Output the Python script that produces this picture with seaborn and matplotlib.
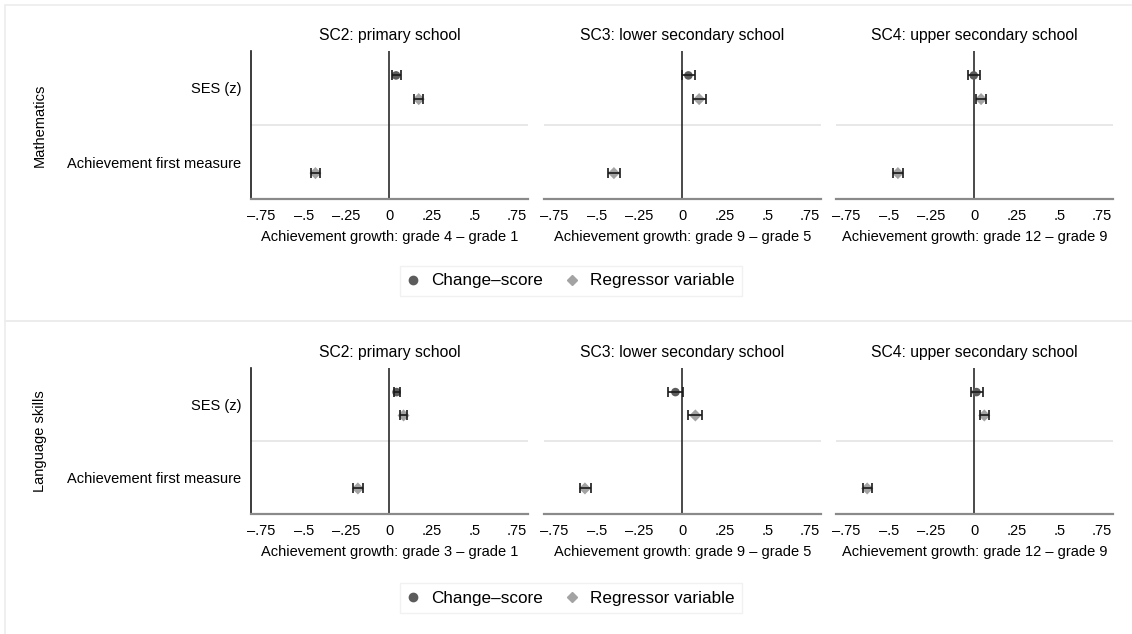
import numpy as np
import pandas as pd
import matplotlib
matplotlib.use("Agg")
import matplotlib.pyplot as plt
from matplotlib.lines import Line2D
from matplotlib.patches import Rectangle
import seaborn as sns

# ---- data -------------------------------------------------------------
stages = ["SC2: primary school", "SC3: lower secondary school", "SC4: upper secondary school"]
domains = ["Mathematics", "Language skills"]
predictors = ["SES (z)", "Achievement first measure"]
models = ["Change\u2013score", "Regressor variable"]

math_xlabels = ["Achievement growth: grade 4 \u2013 grade 1",
                "Achievement growth: grade 9 \u2013 grade 5",
                "Achievement growth: grade 12 \u2013 grade 9"]
lang_xlabels = ["Achievement growth: grade 3 \u2013 grade 1",
                "Achievement growth: grade 9 \u2013 grade 5",
                "Achievement growth: grade 12 \u2013 grade 9"]

# Mathematics
math_ses_change = [0.041, 0.037, -0.002]
math_ses_change_lo = [0.016, 0.002, -0.033]
math_ses_change_hi = [0.072, 0.074, 0.035]
math_ses_reg = [0.174, 0.100, 0.041]
math_ses_reg_lo = [0.145, 0.066, 0.014]
math_ses_reg_hi = [0.200, 0.139, 0.070]
math_ach_reg = [-0.432, -0.400, -0.447]
math_ach_reg_lo = [-0.459, -0.433, -0.473]
math_ach_reg_hi = [-0.404, -0.367, -0.418]

# Language skills
lang_ses_change = [0.044, -0.039, 0.014]
lang_ses_change_lo = [0.026, -0.084, -0.020]
lang_ses_change_hi = [0.065, 0.008, 0.051]
lang_ses_reg = [0.085, 0.078, 0.060]
lang_ses_reg_lo = [0.064, 0.037, 0.033]
lang_ses_reg_hi = [0.108, 0.119, 0.088]
lang_ach_reg = [-0.183, -0.570, -0.627]
lang_ach_reg_lo = [-0.210, -0.600, -0.652]
lang_ach_reg_hi = [-0.155, -0.537, -0.600]

xticks = [-0.75, -0.5, -0.25, 0, 0.25, 0.5, 0.75]
xticklabels = ["\u2013.75", "\u2013.5", "\u2013.25", "0", ".25", ".5", ".75"]


def build_frame(ses_c, ses_c_lo, ses_c_hi, ses_r, ses_r_lo, ses_r_hi, ach_r, ach_r_lo, ach_r_hi):
    rows = []
    for i, st in enumerate(stages):
        rows.append(dict(stage=st, predictor=predictors[0], model=models[0],
                         est=ses_c[i], lo=ses_c_lo[i], hi=ses_c_hi[i]))
        rows.append(dict(stage=st, predictor=predictors[0], model=models[1],
                         est=ses_r[i], lo=ses_r_lo[i], hi=ses_r_hi[i]))
        rows.append(dict(stage=st, predictor=predictors[1], model=models[1],
                         est=ach_r[i], lo=ach_r_lo[i], hi=ach_r_hi[i]))
    return pd.DataFrame(rows)


frames = [
    build_frame(math_ses_change, math_ses_change_lo, math_ses_change_hi,
                math_ses_reg, math_ses_reg_lo, math_ses_reg_hi,
                math_ach_reg, math_ach_reg_lo, math_ach_reg_hi),
    build_frame(lang_ses_change, lang_ses_change_lo, lang_ses_change_hi,
                lang_ses_reg, lang_ses_reg_lo, lang_ses_reg_hi,
                lang_ach_reg, lang_ach_reg_lo, lang_ach_reg_hi),
]
xlabel_sets = [math_xlabels, lang_xlabels]

# ---- style ------------------------------------------------------------
sns.set_style("white")
plt.rcParams["font.family"] = ["Liberation Sans", "DejaVu Sans"]
for key in ["text.color", "axes.labelcolor", "xtick.color", "ytick.color"]:
    plt.rcParams[key] = "black"

palette = {models[0]: "#5c5c5c", models[1]: "#a3a3a3"}
markers = {models[0]: "o", models[1]: "D"}
offsets = {models[0]: -0.17, models[1]: 0.15}

W, H = 1132, 634
fig = plt.figure(figsize=(W / 100, H / 100), dpi=100)

# light frames around the two blocks
fig.add_artist(Rectangle((5 / W, 1 - 321 / H), 1.2, 316 / H, transform=fig.transFigure,
                         fill=False, edgecolor="#ececec", lw=1.2))
fig.add_artist(Rectangle((5 / W, -0.1), 1.2, 0.1 + 1 - 321 / H, transform=fig.transFigure,
                         fill=False, edgecolor="#ececec", lw=1.2))

col_left = [251, 544, 836]
col_w = 277
row_top = [51, 368]
row_h = [148, 146]
legend_y = [281, 598]
label_font = 10.5

for r, df in enumerate(frames):
    df = df.copy()
    df["ypos"] = df["predictor"].map({p: i + 1 for i, p in enumerate(predictors)}) + \
        df["model"].map(offsets)
    for c, st in enumerate(stages):
        ax = fig.add_axes([col_left[c] / W, 1 - (row_top[r] + row_h[r]) / H,
                           col_w / W, row_h[r] / H])
        sub = df[df["stage"] == st]
        ax.axhline(1.5, color="#e6e6e6", lw=1.3, zorder=0)
        ax.axvline(0, color="#2b2b2b", lw=1.2, zorder=1)
        sns.scatterplot(data=sub, x="est", y="ypos", hue="model", style="model",
                        palette=palette, markers=markers, s=38, edgecolor="none",
                        legend=False, ax=ax, zorder=2)
        ax.errorbar(sub["est"], sub["ypos"],
                    xerr=[sub["est"] - sub["lo"], sub["hi"] - sub["est"]],
                    fmt="none", ecolor="#1a1a1a", elinewidth=1.2, capsize=3.3,
                    capthick=1.2, zorder=3)
        ax.set_xlim(-0.81, 0.815)
        ax.set_ylim(2.5, 0.5)
        ax.set_xticks(xticks)
        ax.set_xticklabels(xticklabels, fontsize=label_font)
        ax.set_xlabel(xlabel_sets[r][c], fontsize=label_font, labelpad=5)
        ax.set_ylabel("")
        ax.set_title(st, fontsize=11.3, pad=8)
        for s in ["top", "right"]:
            ax.spines[s].set_visible(False)
        ax.spines["bottom"].set_color("#8a8a8a")
        ax.spines["bottom"].set_linewidth(1.6)
        ax.tick_params(axis="x", direction="out", length=4, width=1, color="#333333", pad=3)
        if c == 0:
            ax.set_yticks([1, 2])
            ax.set_yticklabels(predictors, fontsize=label_font)
            ax.spines["left"].set_color("#1a1a1a")
            ax.spines["left"].set_linewidth(1.2)
            ax.tick_params(axis="y", direction="out", length=4, width=1, color="#333333", pad=3)
        else:
            ax.set_yticks([])
            ax.spines["left"].set_visible(False)

    # row label
    fig.text(40 / W, 1 - (row_top[r] + row_h[r] / 2) / H, domains[r], rotation=90,
             ha="center", va="center", fontsize=label_font)

    handles = [Line2D([], [], marker=markers[m], color=palette[m], linestyle="none",
                      markersize=6 if m == models[0] else 5.5) for m in models]
    leg = fig.legend(handles, models, loc="center", bbox_to_anchor=(571 / W, 1 - legend_y[r] / H),
                     ncol=2, fontsize=12.3, frameon=True, fancybox=False, handletextpad=0.75,
                     columnspacing=1.4, borderpad=0.45, handlelength=0.6)
    leg.get_frame().set_edgecolor("#eeeeee")
    leg.get_frame().set_linewidth(1.0)

fig.savefig("out.png", dpi=100)
